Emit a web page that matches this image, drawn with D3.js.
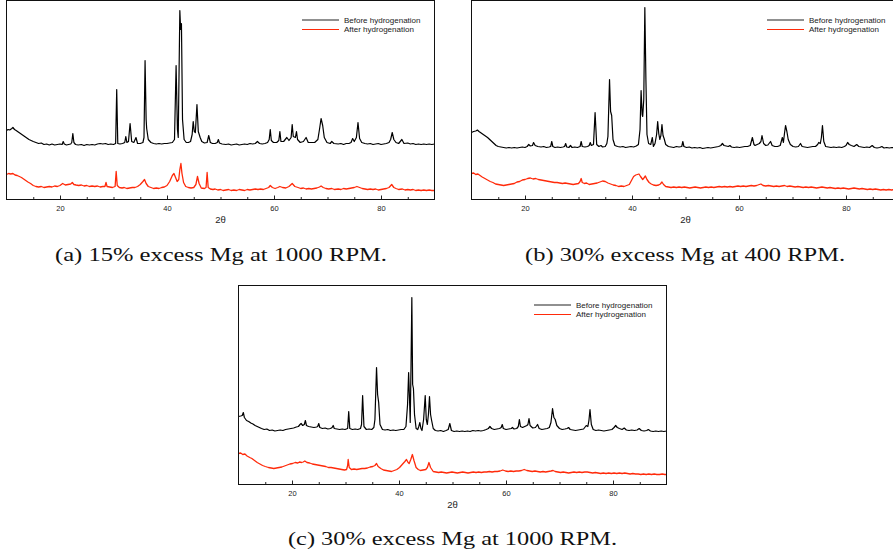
<!DOCTYPE html>
<html>
<head>
<meta charset="utf-8">
<script src="https://cdn.jsdelivr.net/npm/d3@7"></script>
<style>
  body { margin: 0; background: #fff; }
  svg { display: block; }
</style>
</head>
<body>
<script>
// XRD patterns, [2theta, intensity (a.u.)]
var A_BEFORE = [[10,69],[10.3,70],[10.6,69.5],[11,71],[11.2,72],[11.5,70],[11.8,69],[12.2,67.5],[12.6,66],[13,64.5],[13.4,63],[13.8,61.5],[14.2,60],[14.6,59],[15,58],[15.5,57],[16,56],[16.5,56.5],[17,55],[17.5,55.5],[18,54.5],[18.5,55.5],[19,54.5],[19.5,55],[20,55.5],[20.4,55],[20.6,58],[20.8,55.5],[21.2,54.5],[21.6,55],[22,55.5],[22.2,57],[22.4,66],[22.6,57],[22.9,55],[23.4,54.5],[24,55],[24.5,54],[25,55],[25.5,54.5],[26,55],[26.5,54.5],[27,55.5],[27.5,56],[28,55.5],[28.5,56],[29,55],[29.5,55.5],[30,55],[30.4,56],[30.6,110],[30.8,56],[31.2,55.5],[31.7,56],[32.1,57],[32.3,63],[32.5,57],[32.8,58],[33.1,76],[33.4,58],[33.8,57],[34.2,62],[34.5,56],[35,56],[35.5,57],[35.7,62],[35.9,139],[36.1,80],[36.2,71],[36.5,60],[37,57],[37.5,56],[38,55.5],[38.5,56],[39,55.5],[39.5,56],[40,56],[40.5,56.5],[41,57],[41.4,60],[41.7,134],[41.95,70],[42.1,62],[42.4,189],[42.55,170],[42.7,176],[42.9,80],[43.2,60],[43.6,57],[44,57],[44.4,58],[44.7,65],[44.9,78],[45.1,68],[45.3,67],[45.6,95],[45.85,68],[46.2,62],[46.5,58],[47,56.5],[47.5,57],[47.8,64],[48.1,57],[48.5,56],[49,56],[49.4,57],[49.6,60],[49.8,56.5],[50.3,55.5],[51,55],[51.5,55.5],[52,54.5],[52.5,55],[53,55.5],[53.5,54.5],[54,55],[54.5,55.5],[55,55],[55.5,56],[56,55.5],[56.5,56],[56.9,58],[57.3,56],[57.8,55.5],[58.3,56],[58.8,57],[59.1,60],[59.3,70],[59.5,59],[59.9,57],[60.5,57],[60.9,59],[61.1,68],[61.3,58],[61.8,58],[62.4,62],[62.8,59],[63.2,62],[63.4,75],[63.6,63],[64,62],[64.2,68],[64.4,60],[64.9,57],[65.5,58],[66,62],[66.4,57],[67,57],[67.6,57],[68.2,60],[68.5,70],[68.8,81],[69.1,74],[69.4,62],[69.9,57],[70.5,56],[70.8,58],[71.2,56],[72,55.5],[72.5,56],[73,55],[73.5,56],[74,56],[74.4,57],[74.7,61],[75,58],[75.4,62],[75.7,77],[76,61],[76.4,57],[77,56],[77.5,55.5],[78,56],[78.5,55],[79,55.5],[79.5,56],[80,55],[80.5,55.5],[81,56],[81.5,57],[81.8,60],[82.1,67],[82.4,60],[82.8,57],[83.3,56],[83.9,60],[84.3,56],[85,56.5],[85.5,55.5],[86,56],[86.5,55],[87,55.5],[87.5,55],[88,55.5],[88.5,55],[89,55.5],[89.5,55],[90,55.5]];

var A_AFTER = [[10,25],[10.4,26],[10.8,25.5],[11.2,26],[11.6,24.5],[12,24],[12.4,23],[12.8,22],[13.2,20.5],[13.6,19],[14,17.5],[14.5,16],[15,14],[15.5,13],[16,12.5],[16.5,13],[17,12],[17.5,12.5],[18,13],[18.5,12.5],[19,13.5],[19.5,13],[20,14],[20.5,16],[21,14.5],[21.5,15],[22,15.5],[22.3,17],[22.6,15],[23,14.5],[23.5,14],[24,14.5],[24.5,13.5],[25,14],[25.5,13],[26,13.5],[26.5,13],[27,13.5],[27.5,12.5],[28,13],[28.4,13],[28.6,17],[28.8,13],[29.3,12.5],[29.8,12],[30.3,13],[30.5,28],[30.7,14],[31.1,12],[31.6,11.5],[32,12],[32.5,11],[33,11.5],[33.5,12],[34,12],[34.5,13],[35,15],[35.5,18],[35.8,20],[36.1,16],[36.5,13],[37,12],[37.5,11],[38,11.5],[38.5,11],[39,12],[39.5,12.5],[40,14],[40.5,18],[41,24],[41.3,26],[41.6,22],[41.9,18],[42.2,20],[42.4,30],[42.6,36],[42.8,26],[43.1,17],[43.5,13],[44,12],[44.5,11.5],[45,12],[45.4,15],[45.7,23],[46,16],[46.4,11.5],[47,11],[47.3,12],[47.5,27],[47.7,12],[48.1,10.5],[48.6,10],[49,10.5],[49.5,9.5],[50,10],[50.5,9],[51,9.5],[51.5,10],[52,9],[52.5,9.5],[53,9],[53.5,10],[54,9.5],[54.5,9],[55,10],[55.5,9.5],[56,10],[56.5,10.5],[57,10],[57.5,10.5],[58,10],[58.5,11],[59,12],[59.3,14],[59.7,12],[60.2,11],[60.7,12],[61.1,13],[61.6,12],[62.2,11.5],[62.8,13],[63.4,16],[63.9,13],[64.5,12],[65,11],[65.5,11.5],[66,10.5],[66.5,11],[67,10.5],[67.5,11],[68,11.5],[68.5,12.5],[68.8,13.5],[69.2,12],[69.7,11],[70.2,10.5],[70.8,11],[71.3,10],[72,10.5],[72.5,10],[73,11],[73.5,10.5],[74,11],[74.5,11.5],[75,12],[75.5,13],[76,12],[76.5,11],[77,10.5],[77.5,10],[78,10.5],[78.5,10],[79,10.5],[79.5,9.5],[80,10],[80.5,10.5],[81,11],[81.5,12],[82,15],[82.4,12],[82.8,11],[83.3,10],[84,10.5],[84.5,9.5],[85,10],[85.5,9.5],[86,10],[86.5,9],[87,9.5],[87.5,9],[88,9.5],[88.5,9],[89,9.5],[89.5,9],[90,9]];

var B_BEFORE = [[10,67],[10.4,68],[10.8,68.5],[11.1,69.5],[11.4,68],[11.8,66.5],[12.2,65],[12.6,63.5],[13,62],[13.4,60],[13.8,58],[14.2,56],[14.6,54],[15,53],[15.5,52.5],[16,52],[16.5,51.5],[17,52],[17.5,51.5],[18,52],[18.5,51.5],[19,52],[19.5,52.5],[20,52],[20.4,53],[20.7,55],[21,53.5],[21.4,54],[21.6,57],[21.9,54],[22.4,53],[23,52.5],[23.5,53],[24,52],[24.5,52.5],[24.8,53],[25,58],[25.2,53],[25.6,52],[26.1,52.5],[26.6,52],[27.1,52.5],[27.4,53],[27.6,56],[27.8,52.5],[28.2,52],[28.5,54],[28.8,52],[29.3,52.5],[29.8,52],[30.3,53],[30.5,58],[30.7,53],[31.2,52.5],[31.7,53],[32,54],[32.2,57],[32.4,54],[32.8,55],[33.1,87],[33.4,55],[33.8,53],[34.2,54],[34.5,52.5],[35,53],[35.3,56],[35.5,63],[35.8,120],[36,88],[36.2,84],[36.45,60],[36.8,54],[37.3,53],[37.8,52.5],[38.3,53],[38.8,52],[39.3,52.5],[39.8,53],[40.3,52.5],[40.8,53.5],[41.2,55],[41.5,70],[41.7,109],[41.9,85],[42,83],[42.2,100],[42.4,192],[42.6,120],[42.8,65],[43.1,56],[43.5,55],[43.8,62],[44,53],[44.3,56],[44.6,65],[44.8,78],[45,66],[45.2,60],[45.4,64],[45.6,75],[45.8,64],[46,61],[46.3,55],[46.8,53],[47.3,52.5],[47.8,52],[48.3,53],[48.8,52.5],[49.3,53],[49.5,58],[49.7,53],[50.2,52],[50.7,52.5],[51.2,51.5],[51.7,52],[52.2,51.5],[52.7,52],[53.2,51],[53.7,51.5],[54.2,52],[54.7,51.5],[55.2,52],[55.7,52.5],[56.2,53],[56.6,54],[56.9,56],[57.2,54],[57.6,53.5],[58,53],[58.3,54],[58.6,52.5],[59.1,52],[59.6,52.5],[60.1,52],[60.6,52.5],[61.1,53],[61.6,53],[62.1,54],[62.5,62],[62.8,55],[63,54],[63.4,55],[63.8,56],[64.1,58],[64.3,64],[64.6,56],[65,54],[65.4,54.5],[65.9,58],[66.2,54],[66.7,53],[67.2,53],[67.7,54],[68.1,62],[68.3,57],[68.5,66],[68.7,74],[68.95,68],[69.2,60],[69.6,55],[70.1,53],[70.6,52.5],[71.1,53],[71.5,56],[71.8,53],[72.3,52.5],[72.8,52],[73.3,52.5],[73.8,53],[74.3,53],[74.7,55],[74.9,57],[75.2,56],[75.4,62],[75.6,74],[75.85,58],[76.2,53],[76.7,52.5],[77.2,52],[77.7,52.5],[78.2,52],[78.7,52.5],[79.2,52],[79.7,53],[80,54],[80.3,57],[80.6,55],[81,54],[81.5,53],[82,55],[82.4,53],[82.9,52.5],[83.4,52],[83.9,52.5],[84.4,52],[84.9,54],[85.3,52],[85.8,51.5],[86.3,52],[86.7,53],[87.1,51.5],[87.6,52],[88.1,51.5],[88.6,52],[89.1,51.5],[89.6,52],[90,52]];

var B_AFTER = [[10,26],[10.4,26.5],[10.8,25],[11.2,25.5],[11.6,24],[12,22.5],[12.5,21],[13,19.5],[13.5,18],[14,17],[14.5,15.5],[15,15],[15.5,14.5],[16,14],[16.5,14.5],[17,15],[17.5,15.5],[18,16],[18.5,17.5],[19,18],[19.5,19.5],[20,20],[20.5,21],[21,21.5],[21.5,20.5],[22,21],[22.5,20],[23,19.5],[23.5,19],[24,18.5],[24.5,18],[25,17.5],[25.5,17],[26,17],[26.5,16.5],[27,16],[27.5,16.5],[28,16],[28.5,15.5],[29,15],[29.5,15.5],[30,16],[30.3,18],[30.5,21],[30.7,17],[31.1,16],[31.5,16.5],[32,15],[32.5,15.5],[33,16],[33.5,16.5],[34,17.5],[34.5,18.5],[35,18],[35.5,16.5],[36,15.5],[36.5,14.5],[37,14],[37.5,13],[38,13.5],[38.5,13],[39,14],[39.5,15],[40,20],[40.3,23],[40.7,24.5],[41,25],[41.3,25.5],[41.6,23],[42,20],[42.3,22],[42.5,23.5],[42.8,20],[43.2,17],[43.6,15.5],[44,14.5],[44.5,14],[45,14.5],[45.3,15.5],[45.6,17.5],[45.9,15],[46.3,13],[46.8,12.5],[47.3,12],[47.8,12.5],[48.3,12],[48.8,12.5],[49.3,12],[49.8,12.5],[50.3,12],[50.8,11.5],[51.3,12],[51.8,12.5],[52.3,12],[52.8,11.5],[53.3,12],[53.8,12.5],[54.3,12],[54.8,12.5],[55.3,12],[55.8,12.5],[56.3,13],[56.8,12.5],[57.3,13],[57.8,12.5],[58.3,13],[58.8,12.5],[59.3,13],[59.8,13.5],[60.3,13],[60.8,13.5],[61.3,13],[61.8,13.5],[62.3,14],[62.8,13.5],[63.3,14],[63.8,15],[64.1,15.5],[64.5,14],[65,13.5],[65.5,14],[66,13.5],[66.5,13],[67,13.5],[67.5,13],[68,13.5],[68.5,14],[69,13],[69.5,13.5],[70,13],[70.5,12.5],[71,13],[71.5,12.5],[72,12],[72.5,12.5],[73,12],[73.5,12.5],[74,12],[74.5,11.5],[75,12],[75.5,12.5],[76,12],[76.5,11.5],[77,12],[77.5,11.5],[78,11],[78.5,11.5],[79,11],[79.5,11.5],[80,11],[80.5,10.5],[81,11],[81.5,11.5],[82,11],[82.5,10.5],[83,11],[83.5,10.5],[84,10],[84.5,10.5],[85,10],[85.5,10.5],[86,10],[86.5,9.5],[87,10],[87.5,9.5],[88,10],[88.5,9.5],[89,10],[89.5,9.5],[90,10]];

var C_BEFORE = [[10,68],[10.4,68.5],[10.7,69],[10.9,72],[11.1,67],[11.5,64],[11.9,63],[12.3,61.5],[12.7,60.5],[13.1,59],[13.5,58],[13.9,57],[14.3,56],[14.8,55],[15.3,55.5],[15.8,54],[16.3,54.5],[16.8,53.5],[17.3,54],[17.8,54.5],[18.3,54],[18.8,55],[19.3,55.5],[19.8,56],[20.3,56.5],[20.8,57.5],[21.2,58],[21.5,60],[21.7,61],[22,59],[22.3,60],[22.5,64],[22.7,59],[23.1,58],[23.6,57.5],[24.1,57],[24.6,57.5],[24.8,58],[25,61],[25.2,57],[25.7,56],[26.2,56.5],[26.7,55.5],[27.2,56],[27.5,57],[27.7,59],[27.9,56],[28.4,55.5],[28.9,55],[29.4,55.5],[29.9,55],[30.4,56],[30.6,73],[30.8,56],[31.3,55],[31.8,55.5],[32.3,55],[32.8,56],[33,60],[33.2,89],[33.45,58],[33.9,55],[34.4,55.5],[34.9,55],[35.3,57],[35.5,65],[35.8,117],[36,90],[36.2,82],[36.45,60],[36.9,55],[37.4,54.5],[37.9,55],[38.4,54],[38.9,54.5],[39.4,54],[39.9,54.5],[40.4,55],[40.9,55],[41.3,58],[41.6,80],[41.8,112],[42,80],[42.1,62],[42.25,120],[42.4,187],[42.55,100],[42.7,96],[42.9,70],[43.2,56],[43.5,55],[43.7,58],[43.9,62],[44.1,56],[44.3,54],[44.6,65],[44.9,89],[45.1,65],[45.3,60],[45.5,70],[45.7,88],[45.9,70],[46.1,64],[46.4,56],[46.8,54],[47.3,53.5],[47.8,54],[48.3,53],[48.8,54],[49.2,55],[49.5,61],[49.8,54],[50.3,53],[50.8,53.5],[51.3,53],[51.8,53.5],[52.3,53],[52.8,53.5],[53.3,53],[53.8,54],[54.3,53.5],[54.8,54],[55.3,53.5],[55.8,54],[56.3,55],[56.7,56],[57,58],[57.3,56],[57.8,55],[58.3,55.5],[58.8,56],[59.1,57],[59.3,60],[59.5,56],[60,55],[60.5,55.5],[61,56],[61.2,57],[61.5,55.5],[62,56],[62.3,58],[62.5,65],[62.7,58],[63.1,57],[63.5,58],[63.9,59],[64.1,60],[64.3,66],[64.5,59],[65,56.5],[65.5,57],[65.9,60],[66.2,56],[66.7,55],[67.2,55.5],[67.7,56],[68.1,57],[68.4,62],[68.7,76],[68.95,67],[69.2,65],[69.5,59],[70,56],[70.5,55],[71,55.5],[71.4,56],[71.7,57],[72,55],[72.5,54.5],[73,54],[73.5,54.5],[74,55],[74.5,55.5],[75,59],[75.3,58],[75.5,64],[75.7,75],[75.95,60],[76.3,55],[76.8,54],[77.3,54.5],[77.8,54],[78.3,53.5],[78.8,54],[79.3,54.5],[79.8,55],[80.2,57],[80.5,59],[80.8,57],[81.2,56],[81.7,55],[82.1,56.5],[82.5,54.5],[83,54],[83.5,54.5],[84,54],[84.5,54.5],[84.9,56],[85.3,54],[85.8,53.5],[86.3,54],[86.6,55],[87,53.5],[87.5,53],[88,53.5],[88.5,53],[89,53.5],[89.5,53],[90,53.5]];

var C_AFTER = [[10,31],[10.4,31.5],[10.8,30],[11.2,30.5],[11.6,28.5],[12.1,27],[12.5,26],[13,24],[13.5,22],[14,20.5],[14.5,19],[15,18],[15.6,17],[16.1,16.5],[16.6,16],[17.1,16.5],[17.6,17],[18.1,17.5],[18.6,18.5],[19.1,19.5],[19.6,20.5],[20.1,21],[20.6,22],[21.1,21.5],[21.4,22.5],[21.8,22],[22.1,22.5],[22.4,23.5],[22.8,22],[23.3,21.5],[23.8,20.5],[24.3,20],[24.8,19.5],[25.3,19],[25.8,18.5],[26.3,18],[26.8,17],[27.3,17],[27.8,16.5],[28.3,16],[28.8,15.5],[29.3,15],[29.8,14.5],[30.2,15],[30.4,19],[30.5,25],[30.7,17],[31.1,15],[31.6,15.5],[32.1,15],[32.6,15.5],[33.1,16],[33.6,16],[34.1,16.5],[34.6,17.5],[35.1,18],[35.5,19],[35.8,21],[36.1,18],[36.6,16],[37.1,14.5],[37.6,14],[38.1,13.5],[38.6,13],[39.1,14],[39.6,15],[40.1,17],[40.6,20],[41.1,23],[41.4,25],[41.7,22],[41.9,21],[42.2,25],[42.5,30],[42.8,24],[43.2,17],[43.6,15],[44,14],[44.5,14.5],[45,15],[45.3,17],[45.6,22],[45.9,17],[46.4,13],[46.9,12.5],[47.4,12],[47.9,12.5],[48.4,12],[48.9,11.5],[49.4,12],[49.9,12.5],[50.4,12],[50.9,11.5],[51.4,12],[51.9,12.5],[52.4,12],[52.9,11.5],[53.4,12],[53.9,12.5],[54.4,12],[54.9,12.5],[55.4,12],[55.9,12.5],[56.4,12.5],[56.9,13],[57.4,12.5],[57.9,13],[58.4,13],[58.9,13.5],[59.4,14.5],[59.9,13.5],[60.4,13],[60.9,13.5],[61.4,13],[61.9,13.5],[62.4,13.5],[62.9,14],[63.4,15],[63.9,14],[64.4,13.5],[64.9,13],[65.4,13.5],[65.9,13],[66.4,12.5],[66.9,13],[67.4,12.5],[67.9,13],[68.4,13.5],[68.8,14],[69.2,13],[69.7,12.5],[70.2,12],[70.7,12.5],[71.2,12],[71.7,11.5],[72.2,12],[72.7,12.5],[73.2,12],[73.7,12.5],[74.2,12],[74.7,12.5],[75.2,12.5],[75.7,12],[76.2,11.5],[76.7,12],[77.2,11.5],[77.7,11],[78.2,11.5],[78.7,11],[79.2,11.5],[79.7,11],[80.2,11.5],[80.7,11],[81.2,11.5],[81.7,11],[82.2,11.5],[82.7,11],[83.2,10.5],[83.7,11],[84.2,10.5],[84.7,10.5],[85.2,10],[85.7,10.5],[86.2,10],[86.7,10.5],[87.2,10],[87.7,10.5],[88.2,10],[88.7,10],[89.2,10.5],[89.7,10],[90,10]];

var SERIES_NAMES = ["Before hydrogenation", "After hydrogenation"];
var X_TICKS = [20, 40, 60, 80];
var X_MINOR = [15, 25, 30, 35, 45, 50, 55, 65, 70, 75, 85];
var CAPTIONS = ["(a) 15% excess Mg at 1000 RPM.",
                "(b) 30% excess Mg at 400 RPM.",
                "(c) 30% excess Mg at 1000 RPM."];
var X_LABEL = "2\u03b8";

var W = 893, H = 556;
var plotW = 428, plotH = 199;
var red = "#ff2a0a";
var sans = "'Liberation Sans', Arial, sans-serif";
var serif = "'Liberation Serif', 'DejaVu Serif', serif";

// where each panel sits on the page
var panels = [
  {left: 6.5,   top: 0.5,   before: A_BEFORE, after: A_AFTER, cap: [221, 261, 332], leg: 302},
  {left: 471.5, top: 0.5,   before: B_BEFORE, after: B_AFTER, cap: [685, 261, 320], leg: 767},
  {left: 238.5, top: 285.5, before: C_BEFORE, after: C_AFTER, cap: [452.5, 545, 329], leg: 534}
];

var svg = d3.select("body").append("svg")
    .attr("width", W).attr("height", H);

panels.forEach(function(p, i) {
    var bottom = p.top + plotH;
    var x = d3.scaleLinear().domain([10, 90]).range([p.left, p.left + plotW]);
    var y = d3.scaleLinear().domain([0, 199]).range([bottom, p.top]);

    var g = svg.append("g");

    g.append("clipPath").attr("id", "clip" + i)
      .append("rect")
        .attr("x", p.left).attr("y", p.top)
        .attr("width", plotW).attr("height", plotH);

    var line = d3.line().x(d => x(d[0])).y(d => y(d[1]));

    var curves = g.append("g").attr("clip-path", "url(#clip" + i + ")");
    curves.append("path").datum(p.before)
        .attr("d", line).attr("fill", "none")
        .attr("stroke", "#000").attr("stroke-width", 1.2)
        .attr("stroke-linejoin", "round");
    curves.append("path").datum(p.after)
        .attr("d", line).attr("fill", "none")
        .attr("stroke", red).attr("stroke-width", 1.3)
        .attr("stroke-linejoin", "round");

    // inward ticks on the bottom edge
    var minor = g.append("g")
        .attr("transform", `translate(0, ${bottom})`)
        .call(d3.axisBottom(x).tickValues(X_MINOR).tickSize(-2.5).tickSizeOuter(0).tickFormat(""));
    minor.select(".domain").remove();

    var major = g.append("g")
        .attr("transform", `translate(0, ${bottom})`)
        .call(d3.axisBottom(x).tickValues(X_TICKS).tickSize(-4).tickSizeOuter(0).tickPadding(6.5));
    major.select(".domain").remove();
    major.selectAll("text")
        .attr("font-family", sans)
        .attr("font-size", 7.5).attr("fill", "#222");
    g.selectAll(".tick line").attr("stroke", "#222");

    g.append("text")
        .attr("x", x(50)).attr("y", bottom + 23.5)
        .attr("text-anchor", "middle")
        .attr("font-family", sans)
        .attr("font-size", 9.5).attr("fill", "#222")
        .text(X_LABEL);

    // frame
    g.append("rect")
        .attr("x", p.left).attr("y", p.top)
        .attr("width", plotW).attr("height", plotH)
        .attr("fill", "none").attr("stroke", "#111").attr("stroke-width", 1);

    // legend
    var lg = g.append("g");
    [["#222", SERIES_NAMES[0]], [red, SERIES_NAMES[1]]].forEach(function(s, k) {
        var ly = p.top + 19.5 + k * 9.5;
        lg.append("line")
            .attr("x1", p.leg).attr("x2", p.leg + 37)
            .attr("y1", ly).attr("y2", ly)
            .attr("stroke", s[0]).attr("stroke-width", 1.1);
        lg.append("text")
            .attr("x", p.leg + 42).attr("y", ly + 2.8)
            .attr("font-family", sans)
            .attr("font-size", 8).attr("fill", "#222")
            .text(s[1]);
    });

    // sub-figure caption
    svg.append("text")
        .attr("x", p.cap[0]).attr("y", p.cap[1])
        .attr("text-anchor", "middle")
        .attr("font-family", serif)
        .attr("font-size", 19).attr("fill", "#111")
        .attr("textLength", p.cap[2]).attr("lengthAdjust", "spacingAndGlyphs")
        .text(CAPTIONS[i]);
});
</script>
</body>
</html>
